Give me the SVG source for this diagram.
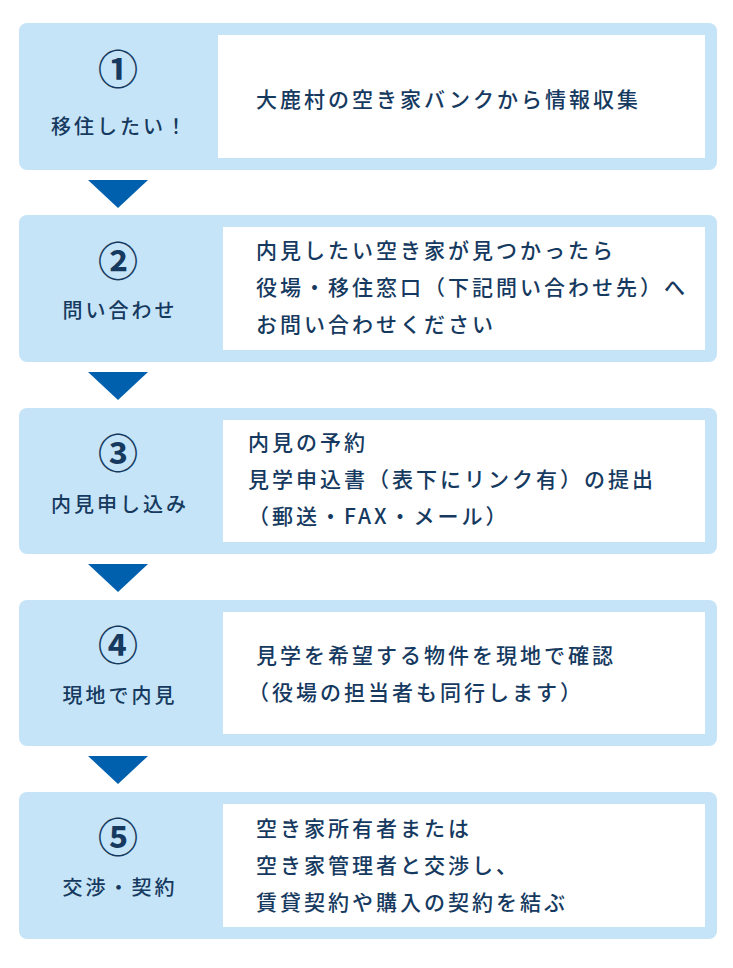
<svg xmlns="http://www.w3.org/2000/svg" width="733" height="968" viewBox="0 0 733 968">
<style>
.p{fill:#c6e4f7}.w{fill:#fff}.a{fill:#0060ae}
text{font-family:"Noto Sans CJK JP","Noto Sans",sans-serif;fill:#163a5f;font-weight:500}
.n{font-size:40px;text-anchor:middle;font-weight:700}
.l{font-size:20px;letter-spacing:3px;text-anchor:middle}
.t{font-size:21px;letter-spacing:3px}
</style>
<g id="connectors">
<polygon class="a" points="88,180 148,180 118,208"/>
<polygon class="a" points="88,372 148,372 118,400"/>
<polygon class="a" points="88,564 148,564 118,592"/>
<polygon class="a" points="88,756 148,756 118,784"/>
</g>
<g id="step1"><rect class="p" x="19" y="23" width="698" height="147" rx="8"/><rect class="w" x="218" y="35" width="487" height="123"/>
<text class="n" x="118" y="84">①</text><text class="l" x="120" y="134">移住したい！</text>
<text class="t" x="256" y="107">大鹿村の空き家バンクから情報収集</text></g>
<g id="step2"><rect class="p" x="19" y="215" width="698" height="147" rx="8"/><rect class="w" x="223" y="227" width="482" height="123"/>
<text class="n" x="118" y="276">②</text><text class="l" x="120" y="318">問い合わせ</text>
<text class="t" x="256" y="258">内見したい空き家が見つかったら</text>
<text class="t" x="256" y="295">役場・移住窓口（下記問い合わせ先）へ</text>
<text class="t" x="256" y="332">お問い合わせください</text></g>
<g id="step3"><rect class="p" x="19" y="408" width="698" height="146" rx="8"/><rect class="w" x="223" y="420" width="482" height="122"/>
<text class="n" x="118" y="468">③</text><text class="l" x="120" y="512">内見申し込み</text>
<text class="t" x="248" y="450">内見の予約</text>
<text class="t" x="248" y="487">見学申込書（表下にリンク有）の提出</text>
<text class="t" x="248" y="524">（郵送・FAX・メール）</text></g>
<g id="step4"><rect class="p" x="19" y="600" width="698" height="146" rx="8"/><rect class="w" x="223" y="612" width="482" height="122"/>
<text class="n" x="118" y="660">④</text><text class="l" x="120" y="703">現地で内見</text>
<text class="t" x="256" y="663">見学を希望する物件を現地で確認</text>
<text class="t" x="248" y="700">（役場の担当者も同行します）</text></g>
<g id="step5"><rect class="p" x="19" y="792" width="698" height="147" rx="8"/><rect class="w" x="223" y="804" width="482" height="123"/>
<text class="n" x="118" y="852">⑤</text><text class="l" x="120" y="895">交渉・契約</text>
<text class="t" x="256" y="836">空き家所有者または</text>
<text class="t" x="256" y="873">空き家管理者と交渉し、</text>
<text class="t" x="256" y="910">賃貸契約や購入の契約を結ぶ</text></g>
</svg>
